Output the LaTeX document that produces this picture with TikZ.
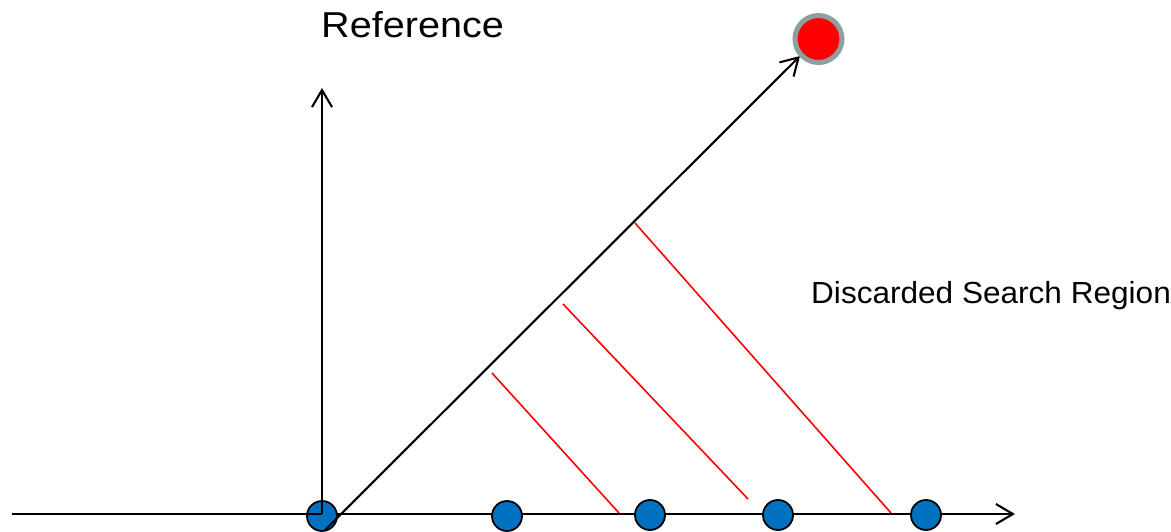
\documentclass[tikz,border=0pt]{standalone}
\usepackage{fontspec}
\usepackage{graphicx}
\setmainfont{Liberation Sans}
\usetikzlibrary{arrows.meta}
\definecolor{dotblue}{RGB}{0,112,192}
\definecolor{ringgray}{RGB}{140,160,160}
\tikzset{
  axis/.style={line width=2.1pt, -{Straight Barb[length=17pt,width=20pt,line width=2.1pt]}},
  plainaxis/.style={line width=2.1pt},
  dot/.style={circle, draw=black, line width=1.8pt, fill=dotblue, minimum size=30pt, inner sep=0pt},
  target/.style={circle, draw=ringgray, line width=5pt, fill=red, minimum size=47pt, inner sep=0pt},
  redline/.style={red, line width=1.6pt},
  lbl/.style={anchor=base west, inner sep=0pt}
}
\begin{document}
\begin{tikzpicture}[x=1pt,y=-1pt]
\useasboundingbox (0,0) rectangle (1171,531);
% coordinates
\coordinate (leftend) at (12,514);
\coordinate (origin) at (322,514);
\coordinate (xend) at (1015,514);
\coordinate (yend) at (322,88);
\coordinate (dstart) at (325,530);
\coordinate (dend) at (800,56);
\coordinate (r1a) at (492,373);
\coordinate (r1b) at (619,513);
\coordinate (r2a) at (563,304);
\coordinate (r2b) at (748,499);
\coordinate (r3a) at (635,223);
\coordinate (r3b) at (891,513);
% horizontal axis (right part, beneath dots)
\draw[axis] (origin) -- (xend);
% red lines
\draw[redline] (r1a) -- (r1b);
\draw[redline] (r2a) -- (r2b);
\draw[redline] (r3a) -- (r3b);
% dots
\node[dot] (d0) at (322,516) {};
\node[dot] (d1) at (507,516) {};
\node[dot] (d2) at (650,515) {};
\node[dot] (d3) at (778,515) {};
\node[dot] (d4) at (926,515) {};
% left axis segment, vertical axis, diagonal
\draw[plainaxis] (leftend) -- (origin);
\draw[axis] (origin) -- (yend);
\draw[axis] (dstart) -- (dend);
% target
\node[target] (tgt) at (818.5,39) {};
% labels
\node[lbl, font=\fontsize{36}{40}\selectfont] (reflbl) at (321,37) {\scalebox{1.1}[1]{Reference}};
\node[lbl, font=\fontsize{30.5}{34}\selectfont] (dsrlbl) at (811,303) {\scalebox{1.035}[1]{Discarded Search Region}};
\end{tikzpicture}
\end{document}
